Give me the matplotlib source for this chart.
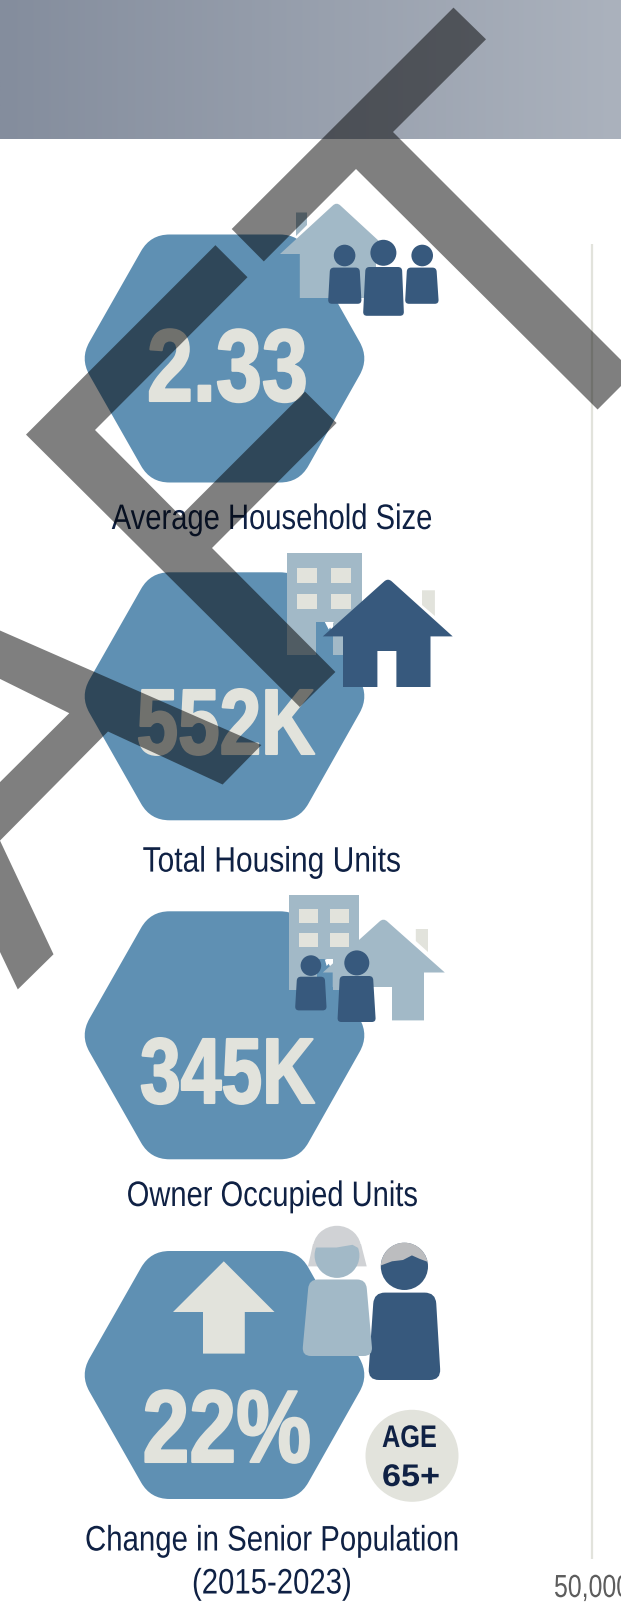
"""Housing stats infographic panel: hexagon badges, icons and grey overlay chevrons."""
import numpy as np
import matplotlib
matplotlib.use('Agg')
import matplotlib.pyplot as plt
from matplotlib.patches import PathPatch, Polygon, Ellipse, Rectangle
from matplotlib.path import Path
from matplotlib.patheffects import AbstractPathEffect
from matplotlib.transforms import Affine2D

plt.rcParams['font.family'] = ['Liberation Sans', 'DejaVu Sans']

# chart values
stat_values = ['2.33', '552K', '345K', '22%']
stat_labels = ['Average Household Size', 'Total Housing Units', 'Owner Occupied Units',
               'Change in Senior Population', '(2015-2023)']
axis_tick = '50,000'
badge_lines = ['AGE', '65+']

HEX = '#5f90b3'
LIGHT = '#a2b9c7'
DARK = '#37597d'
CREAM = '#e2e3dc'
NAVY = '#0f2144'


class Squeeze(AbstractPathEffect):
    """Narrows a text horizontally around a fixed pixel x, no condensed font is installed."""

    def __init__(self, sx, x0, stroke=0):
        super().__init__()
        self.sx = sx
        self.x0 = x0
        self.stroke = stroke

    def draw_path(self, renderer, gc, tpath, affine, rgbFace=None):
        squeezed = affine + Affine2D().translate(-self.x0, 0).scale(self.sx, 1).translate(self.x0, 0)
        gc0 = renderer.new_gc()
        gc0.copy_properties(gc)
        if self.stroke:
            # thickens the stems of the big numbers
            gc0.set_linewidth(self.stroke)
            gc0.set_foreground(rgbFace)
        renderer.draw_path(gc0, tpath, squeezed, rgbFace)
        gc0.restore()


def fit_text(ax, s, x0, x1, y, size, color, weight='normal', stroke=0, z=4):
    t = ax.text(x0, y, s, color=color, fontsize=size, fontweight=weight, ha='left', va='baseline', zorder=z)
    w = t.get_window_extent(ax.figure.canvas.get_renderer()).width
    t.set_path_effects([Squeeze((x1 - x0) / w, x0, stroke)])
    return t


def round_poly(pts, r):
    """Closed path through pts with corners rounded; r is one radius or one per corner."""
    pts = [np.array(p, dtype=float) for p in pts]
    radii = r if isinstance(r, (list, tuple)) else [r] * len(pts)
    verts, codes = [], []
    n = len(pts)
    for i, p in enumerate(pts):
        a = pts[i - 1]
        b = pts[(i + 1) % n]
        ra = min(radii[i], np.linalg.norm(a - p) * 0.45)
        rb = min(radii[i], np.linalg.norm(b - p) * 0.45)
        p1 = p + (a - p) / np.linalg.norm(a - p) * ra
        p2 = p + (b - p) / np.linalg.norm(b - p) * rb
        verts.append(p1)
        codes.append(Path.MOVETO if i == 0 else Path.LINETO)
        verts += [p, p2]
        codes += [Path.CURVE3, Path.CURVE3]
    verts.append(verts[0])
    codes.append(Path.CLOSEPOLY)
    return Path(verts, codes)


def shape(ax, pts, color, r=0, z=3):
    ax.add_patch(PathPatch(round_poly(pts, r), fc=color, ec='none', zorder=z))


def head(ax, x, y, rx, ry, color, z=3):
    ax.add_patch(Ellipse((x, y), rx * 2, ry * 2, fc=color, ec='none', zorder=z))


def person(ax, head_xy, head_r, top, bottom, color, r=4, z=3):
    # top and bottom are (left, right, y)
    head(ax, head_xy[0], head_xy[1], head_r, head_r, color, z)
    shape(ax, [(top[0], top[2]), (top[1], top[2]), (bottom[1], bottom[2]), (bottom[0], bottom[2])],
          color, r, z)


def house(ax, apex, left, right, y_eave, body, bottom, door, door_top, color, z=3):
    pts = [apex, (right, y_eave), (body[1], y_eave), (body[1], bottom), (door[1], bottom),
           (door[1], door_top), (door[0], door_top), (door[0], bottom), (body[0], bottom),
           (body[0], y_eave), (left, y_eave)]
    shape(ax, pts, color, r=[5] + [0] * 10, z=z)


def building(ax, x0, x1, y0, y1, win_x, win_w, win_y, win_h, door, door_top):
    pts = [(x0, y0), (x1, y0), (x1, y1), (door[1], y1), (door[1], door_top), (door[0], door_top),
           (door[0], y1), (x0, y1)]
    ax.add_patch(Polygon(pts, closed=True, fc=LIGHT, ec='none', zorder=3))
    for wx in win_x:
        for wy in win_y:
            ax.add_patch(Rectangle((wx, wy), win_w, win_h, fc=CREAM, ec='none', zorder=3.1))


def hair_cap(ax, center, rx, ry, fringe, color, z):
    # ellipse cut off along the fringe line
    cap = Ellipse(center, rx * 2, ry * 2, fc=color, ec='none', zorder=z)
    ax.add_patch(cap)
    top = center[1] - ry - 5
    clip = Polygon(list(fringe) + [(fringe[-1][0] + 5, top), (fringe[0][0] - 5, top)], closed=True,
                   transform=ax.transData)
    cap.set_clip_path(clip)


fig = plt.figure(figsize=(6.21, 16.06), dpi=100)
ax = fig.add_axes([0, 0, 1, 1])
ax.axis('off')

# header band
grad = np.linspace(0, 1, 256).reshape(1, -1)
cmap = matplotlib.colors.LinearSegmentedColormap.from_list('hdr', ['#848d9d', '#abb2bd'])
ax.imshow(grad, extent=[0, 621, 139.5, 0], aspect='auto', cmap=cmap, zorder=1)
ax.set_xlim(0, 621)
ax.set_ylim(1606, 0)

# chart axis line and its cut off tick label
ax.plot([592, 592], [245, 1560], color=CREAM, lw=1.6, zorder=1, solid_capstyle='butt')
fit_text(ax, axis_tick, 554, 630, 1598, 23, '#5d5d5d')

# hexagons
for cy in [359.5, 697.3, 1036.3, 1376]:
    hex_pts = [(80, cy), (150.5, cy - 124), (299, cy - 124), (369, cy), (299, cy + 124),
               (150.5, cy + 124)]
    shape(ax, hex_pts, HEX, r=19, z=2)

# icon 1: house and three people
ax.add_patch(Polygon([(296, 213.5), (307, 213.5), (307, 226), (296, 237)], fc=LIGHT, ec='none', zorder=3))
house(ax, (336.6, 203), 280, 393, 255, (299.8, 376), 299, (330, 330), 299, LIGHT)
person(ax, (344.6, 256.5), 10.8, (330, 359.6, 268.6), (328, 361.6, 304.8), DARK)
person(ax, (383.4, 253.8), 13, (365.5, 402, 268), (363, 404, 316.8), DARK)
person(ax, (422.2, 256.5), 10.8, (407, 436.4, 268.6), (405, 438.8, 304.8), DARK)

# icon 2: building and dark house
building(ax, 286.7, 362, 554, 655.7, (297, 330.7), 19.8, (569, 595), 15, (315.6, 332.7), 623)
ax.add_patch(Polygon([(324.8, 623), (333.9, 623), (328.7, 630.5)], fc='white', ec='none', zorder=3.1))
ax.add_patch(Polygon([(422, 591.3), (434.9, 591.3), (434.9, 617), (422, 606)], fc=CREAM, ec='none', zorder=3))
house(ax, (388, 579), 322.8, 452.7, 637.4, (343, 430.5), 688, (377.4, 396.4), 652, DARK, z=3.2)

# icon 3: building, light house and two people
building(ax, 289, 359.2, 895.7, 990.7, (299, 330.3), 18.5, (909.5, 933.6), 14.3, (317, 332.7), 960)
ax.add_patch(Polygon([(324.8, 960.5), (332.7, 960.5), (326.7, 967)], fc='white', ec='none', zorder=3.1))
ax.add_patch(Polygon([(415.8, 930), (428, 930), (428, 953), (415.8, 942)], fc=CREAM, ec='none', zorder=3))
house(ax, (383.4, 919), 322.8, 444.8, 973.5, (332.7, 424), 1021.4, (332.7, 392), 988, LIGHT, z=3.2)
person(ax, (310.9, 966.6), 10.3, (297, 324.8, 977.7), (295, 326.7, 1011.4), DARK, z=3.4)
person(ax, (356.8, 963.9), 12.5, (339.8, 373, 977), (337.4, 375.8, 1023), DARK, z=3.4)

# icon 4: arrow, two seniors and age badge
ax.add_patch(Polygon([(223.8, 1262.3), (274.5, 1313), (244.8, 1313), (244.8, 1354.6), (203, 1354.6),
                      (203, 1313), (173, 1313)], fc=CREAM, ec='none', zorder=3))
# man
person(ax, (404.4, 1267.4), 23.6, (374, 435.6, 1293.6), (368, 440.8, 1381), DARK, r=11, z=3)
hair_cap(ax, (404.4, 1267.4), 23.6, 23.8, [(381, 1266.4), (392, 1262.3), (403, 1261), (411.9, 1256.4), (420, 1260), (428, 1263)],
         '#bcbdbf', 3.1)
# woman
ax.add_patch(Polygon([(308, 1267.4), (313, 1245), (361, 1245), (366.7, 1267.4)], fc='#d0d2d5', ec='none', zorder=3.2))
person(ax, (337, 1256.5), 22.4, (309, 366, 1280.5), (302, 372.7, 1357), LIGHT, r=9, z=3.3)
hair_cap(ax, (337, 1250), 24.2, 23.2, [(312, 1248.5), (336.6, 1248.5), (352.5, 1245.8), (362, 1251)], '#d0d2d5', 3.4)
ax.add_patch(Ellipse((412, 1456.8), 93, 92, fc=CREAM, ec='none', zorder=3))
fit_text(ax, badge_lines[0], 382, 437, 1448, 22.5, NAVY, weight='bold')
fit_text(ax, badge_lines[1], 382, 440, 1487, 22.5, NAVY, weight='bold')

# big numbers
value_x = [(147, 308), (136.6, 315), (140, 315), (142.5, 311)]
value_y = [402, 755, 1104, 1463]
value_size = [74, 67, 67, 74]
for v, xs, y, s in zip(stat_values, value_x, value_y, value_size):
    fit_text(ax, v, xs[0], xs[1], y, s, CREAM, weight='bold', stroke=1.5)

# labels under the hexagons
label_x = [(111.7, 432.5), (142.6, 401), (126.7, 417.8), (85, 459), (192, 351.7)]
label_y = [530, 872.6, 1207, 1551.5, 1594.5]
for lab, xs, y in zip(stat_labels, label_x, label_y):
    fit_text(ax, lab, xs[0], xs[1], y, 25.5, NAVY)

# grey overlay chevrons sit on top of everything
overlays = [
    [(453.5, 8.6), (486, 40.3), (393, 133), (634, 374), (597.6, 410.5), (356, 170), (263.8, 262.4), (231.7, 230)],
    [(215.4, 246.2), (247.5, 278.2), (95, 431), (180.5, 517), (305, 392.6), (336.6, 424), (212, 549),
     (335.4, 673), (299.8, 708), (26, 435.6)],
    [(-40, 614), (261.4, 746), (222.6, 785.5), (108, 732.5), (0, 841.6), (53.5, 955.3), (17.8, 990.4),
     (-20, 911), (-20, 803), (69.3, 714.2), (-20, 670)],
]
for pts in overlays:
    ax.add_patch(Polygon(pts, closed=True, fc='black', alpha=0.5, ec='none', zorder=6))

fig.savefig('out.png', dpi=100)
